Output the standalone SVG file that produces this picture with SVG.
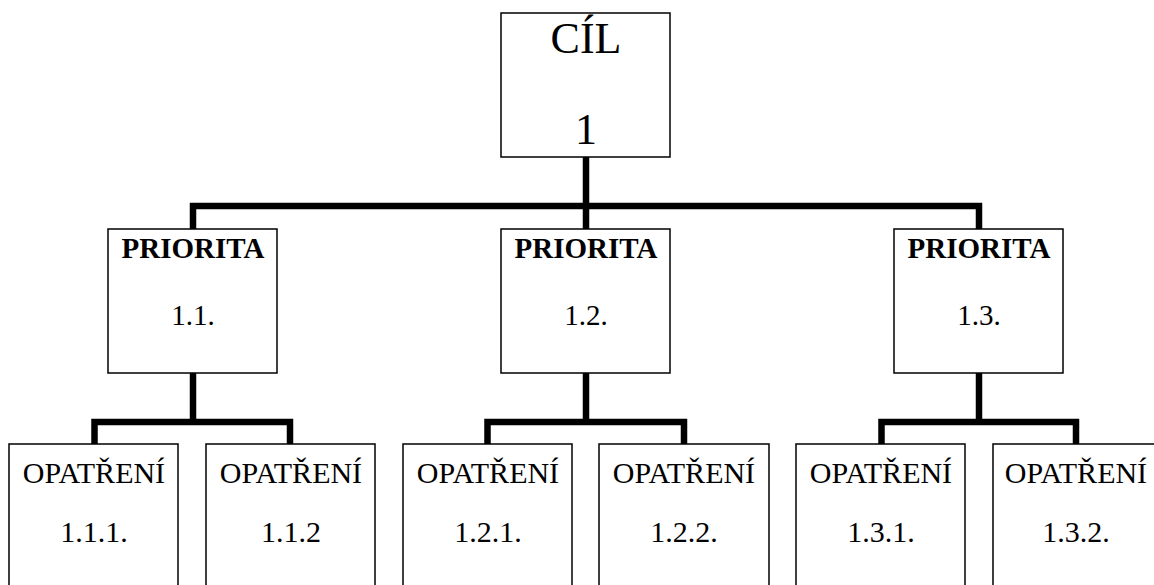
<svg xmlns="http://www.w3.org/2000/svg" width="1154" height="585" viewBox="0 0 1154 585">
<style>
.box{fill:#fff;stroke:#000;stroke-width:1.5}
.con{fill:none;stroke:#000;stroke-width:6.5;stroke-linejoin:miter;stroke-linecap:butt}
text{font-family:"Liberation Serif","Times New Roman",serif;fill:#000;text-anchor:middle}
.t{font-size:44px}
.pb{font-size:29px;font-weight:bold}
.pn{font-size:29px}
.n{font-size:30px}
</style>
<rect width="1154" height="585" fill="#fff"/>
<g id="connectors">
<path class="con" d="M586,157 V229"/>
<path class="con" d="M193,229 V206 H979 V229"/>
<path class="con" d="M193,373 V422"/>
<path class="con" d="M94.5,444 V422 H290 V444"/>
<path class="con" d="M586,373 V422"/>
<path class="con" d="M487.5,444 V422 H684 V444"/>
<path class="con" d="M979,373 V422"/>
<path class="con" d="M881.5,444 V422 H1076 V444"/>
</g>
<g id="cil">
<rect class="box" x="501" y="13" width="169" height="144"/>
<text class="t" x="586" y="53">CÍL</text>
<text class="t" x="586" y="144">1</text>
</g>
<g id="p11">
<rect class="box" x="108" y="229" width="169" height="144"/>
<text class="pb" x="193" y="258">PRIORITA</text>
<text class="pn" x="193" y="325">1.1.</text>
</g>
<g id="p12">
<rect class="box" x="501" y="229" width="169" height="144"/>
<text class="pb" x="586" y="258">PRIORITA</text>
<text class="pn" x="586" y="325">1.2.</text>
</g>
<g id="p13">
<rect class="box" x="894" y="229" width="169" height="144"/>
<text class="pb" x="979" y="258">PRIORITA</text>
<text class="pn" x="979" y="325">1.3.</text>
</g>
<g id="o111">
<rect class="box" x="9" y="444" width="169" height="160"/>
<text class="n" x="94" y="483">OPATŘENÍ</text>
<text class="n" x="94" y="542">1.1.1.</text>
</g>
<g id="o112">
<rect class="box" x="206" y="444" width="169" height="160"/>
<text class="n" x="291" y="483">OPATŘENÍ</text>
<text class="n" x="291" y="542">1.1.2</text>
</g>
<g id="o121">
<rect class="box" x="403" y="444" width="169" height="160"/>
<text class="n" x="488" y="483">OPATŘENÍ</text>
<text class="n" x="488" y="542">1.2.1.</text>
</g>
<g id="o122">
<rect class="box" x="599" y="444" width="170" height="160"/>
<text class="n" x="684" y="483">OPATŘENÍ</text>
<text class="n" x="684" y="542">1.2.2.</text>
</g>
<g id="o131">
<rect class="box" x="796" y="444" width="169" height="160"/>
<text class="n" x="881" y="483">OPATŘENÍ</text>
<text class="n" x="881" y="542">1.3.1.</text>
</g>
<g id="o132">
<rect class="box" x="993" y="444" width="169" height="160"/>
<text class="n" x="1076" y="483">OPATŘENÍ</text>
<text class="n" x="1076" y="542">1.3.2.</text>
</g>
</svg>
